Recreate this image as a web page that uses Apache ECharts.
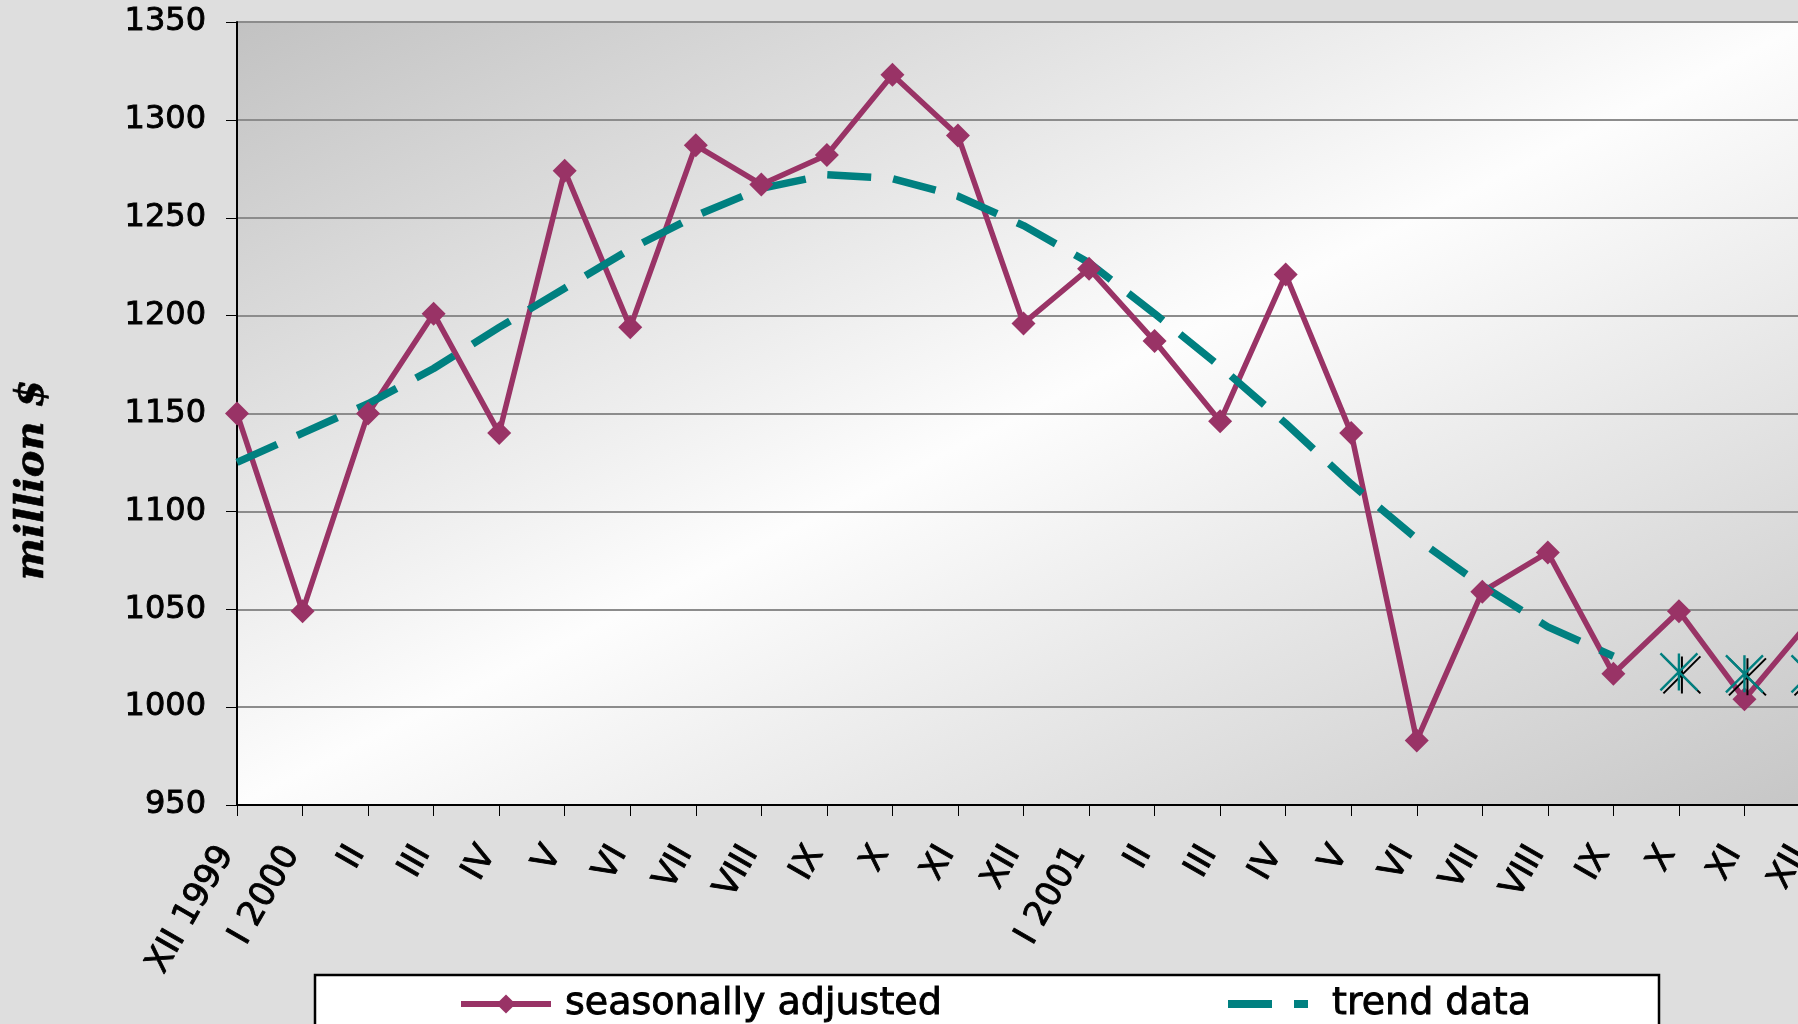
<!DOCTYPE html>
<html>
<head>
<meta charset="utf-8">
<script src="https://cdn.jsdelivr.net/npm/echarts@6/dist/echarts.min.js"></script>
<style>
html,body{margin:0;padding:0;overflow:hidden;background:#dedede;}
#chart{width:1830px;height:1024px;}
</style>
</head>
<body>
<div id="chart"></div>
<script>
// ---- data ----
const categories = ['XII 1999','I 2000','II','III','IV','V','VI','VII','VIII','IX','X','XI','XII',
                    'I 2001','II','III','IV','V','VI','VII','VIII','IX','X','XI','XII'];
const seasonallyAdjusted = [1150, 1049, 1150, 1201, 1140, 1274, 1194, 1287, 1267, 1282, 1323, 1292, 1196,
                            1224, 1187, 1146, 1221, 1140, 983, 1059, 1079, 1017, 1049, 1004, 1044];
const trendData = [1125, 1140, 1155, 1173, 1194, 1214, 1234, 1251, 1265, 1272, 1270, 1261, 1246,
                   1227, 1201, 1174, 1145, 1114, 1086, 1062, 1041, 1026, null, null, null];
const trendExtension = [null, null, null, null, null, null, null, null, null, null, null, null, null,
                        null, null, null, null, null, null, null, null, null, 1018, 1017, 1017];
const yMin = 950, yMax = 1350, yStep = 50;
const seriesNames = ['seasonally adjusted', 'trend data'];
const yAxisTitle = 'million $';

// ---- layout / style ----
const W = 1830, H = 1024;
const grid = {left: 237, top: 22, right: 20, bottom: 219};
const gw = W - grid.left - grid.right, gh = H - grid.top - grid.bottom;
const k = 2 * gw * gh / (gw * gw + gh * gh);
const plotBg = new echarts.graphic.LinearGradient(
  grid.left, grid.top, grid.left + gh * k, grid.top + gw * k,
  [{offset: 0, color: '#c2c2c2'}, {offset: 0.5, color: '#fdfdfd'}, {offset: 1, color: '#c6c6c6'}], true);
const starPath = 'path://M0 0L10 10M10 0L0 10M5 0L5 10';
const FONT = 'DejaVu Sans';
const inkText = {textBorderColor: '#000', textBorderWidth: 0.9};
const PLUM = '#993366', TEAL = '#008080';

const chart = echarts.init(document.getElementById('chart'), null, {renderer: 'canvas'});
chart.setOption({
  animation: false,
  backgroundColor: '#dedede',
  grid: {left: grid.left, top: grid.top, right: grid.right, bottom: grid.bottom,
         show: true, backgroundColor: plotBg, borderWidth: 0, containLabel: false, outerBoundsMode: 'none'},
  graphic: [
    {type: 'rect', z: 1, shape: {x: 315, y: 975, width: 1344, height: 120},
     style: {fill: '#ffffff', stroke: '#000000', lineWidth: 2.5}},
    {type: 'text', z: 5, x: 33, y: 480, rotation: Math.PI / 2,
     style: {text: yAxisTitle, font: 'italic bold 40px "DejaVu Serif"', fill: '#000',
             align: 'center', verticalAlign: 'middle', stroke: '#000', lineWidth: 0.6}}
  ],
  legend: [
    {data: [seriesNames[0]], left: 458, top: 983, padding: 0, itemWidth: 90, itemHeight: 24,
     lineStyle: {width: 6, color: PLUM},
     textStyle: Object.assign({fontFamily: FONT, fontSize: 38, color: '#000', padding: [0, 0, 0, 9], lineHeight: 42}, inkText)},
    {data: [seriesNames[1]], left: 1224, top: 983, padding: 0, itemWidth: 80, itemHeight: 24,
     itemStyle: {opacity: 0}, lineStyle: {width: 8, color: TEAL, type: [44, 22]},
     textStyle: Object.assign({fontFamily: FONT, fontSize: 38, color: '#000', padding: [0, 0, 0, 19], lineHeight: 42}, inkText)}
  ],
  xAxis: {
    type: 'category', data: categories, boundaryGap: false,
    axisLine: {show: true, lineStyle: {color: '#000', width: 2}},
    axisTick: {show: true, interval: 0, length: 11, lineStyle: {color: '#000', width: 1}},
    axisLabel: Object.assign({interval: 0, rotate: 60, fontFamily: FONT, fontSize: 34, color: '#000',
                margin: 50, verticalAlign: 'bottom', lineHeight: 25, hideOverlap: false}, inkText),
    splitLine: {show: false}
  },
  yAxis: {
    type: 'value', min: yMin, max: yMax, interval: yStep,
    axisLine: {show: true, lineStyle: {color: '#000', width: 2}},
    axisTick: {show: true, length: 11, lineStyle: {color: '#000', width: 1}},
    axisLabel: Object.assign({fontFamily: FONT, fontSize: 32, color: '#000', margin: 31,
                formatter: function (v) { return String(v); }}, inkText),
    splitLine: {show: true, lineStyle: {color: '#8c8c8c', width: 2}}
  },
  series: [
    {name: seriesNames[0], type: 'line', data: seasonallyAdjusted, symbol: 'diamond', symbolSize: 24,
     lineStyle: {color: PLUM, width: 5.5}, itemStyle: {color: PLUM}},
    {name: seriesNames[1], type: 'line', data: trendData, symbol: 'none',
     lineStyle: {color: TEAL, width: 7.5, type: [44, 22]}, itemStyle: {color: TEAL}},
    {name: 'trend ext shadow', type: 'line', data: trendExtension, symbol: starPath, symbolSize: 37,
     symbolOffset: [3, 3], lineStyle: {width: 0, opacity: 0},
     itemStyle: {color: 'rgba(0,0,0,0)', borderColor: '#000000', borderWidth: 2}, silent: true},
    {name: 'trend ext', type: 'line', data: trendExtension, symbol: starPath, symbolSize: 37,
     lineStyle: {width: 0, opacity: 0},
     itemStyle: {color: 'rgba(0,0,0,0)', borderColor: TEAL, borderWidth: 2.4}, silent: true}
  ]
});
</script>
</body>
</html>
